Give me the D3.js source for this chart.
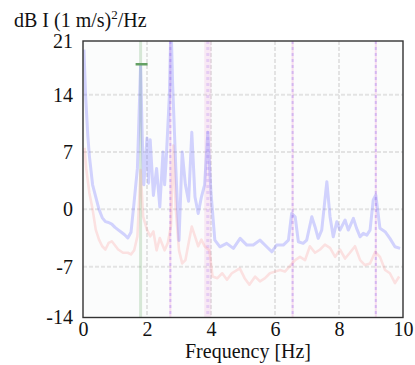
<!DOCTYPE html>
<html><head><meta charset="utf-8">
<script src="https://cdn.jsdelivr.net/npm/d3@7/dist/d3.min.js"></script>
<style>body{margin:0;background:#fff}svg{display:block}</style>
</head><body><svg id="c" width="415" height="365"></svg>
<script>
// ---- data ----
const blueFreq = [0.03,0.08,0.15,0.2,0.3,0.4,0.5,0.6,0.7,0.8,0.9,1.0,1.1,1.2,1.3,1.4,1.5,1.6,1.7,1.8,1.85,1.9,2.0,2.05,2.1,2.2,2.3,2.4,2.5,2.55,2.6,2.7,2.75,2.8,2.9,3.0,3.1,3.2,3.3,3.4,3.5,3.6,3.7,3.8,3.9,4.0,4.12,4.28,4.49,4.70,4.91,5.12,5.32,5.53,5.74,5.90,6.05,6.26,6.42,6.52,6.63,6.73,6.88,6.99,7.15,7.25,7.35,7.46,7.62,7.72,7.82,7.93,8.03,8.19,8.29,8.45,8.55,8.66,8.76,8.87,8.97,9.07,9.15,9.28,9.44,9.59,9.75,9.91];
const blueDb = [19.5,14,9,6.5,3,1.5,0,-1,-1.5,-1.6,-1.8,-2.2,-2.5,-2.8,-3.1,-3.5,-2.8,1.0,5.0,17.6,9,3,8.7,3.2,8.5,1.7,5,0.3,7,3,6,14,23,15.4,5,-3.8,7,3,1,9.4,1.5,-0.5,1.5,3,9.4,2,-3.75,-4.57,-4.15,-4.76,-3.54,-4.36,-4.36,-3.75,-4.57,-5.18,-4.36,-4.36,-3.75,-0.5,-0.9,-3.96,-4.15,-3.75,-0.9,-2.12,-3.54,-2.53,3.37,-0.9,-3.35,-1.51,-2.53,-1.3,-2.53,-1.1,-2.32,-3.35,-2.93,-3.14,-2.53,1.14,1.75,-2.32,-2.73,-3.54,-4.57,-4.76];
const pinkFreq = [0.05,0.1,0.2,0.3,0.4,0.5,0.6,0.7,0.8,0.9,1.1,1.25,1.4,1.5,1.6,1.7,1.8,1.88,2.0,2.1,2.2,2.3,2.4,2.55,2.65,2.75,2.82,2.9,3.0,3.1,3.2,3.3,3.4,3.5,3.6,3.7,3.8,3.95,4.05,4.2,4.35,4.5,4.65,4.9,5.05,5.2,5.38,5.53,5.69,5.84,6.0,6.16,6.31,6.47,6.63,6.78,6.94,7.09,7.25,7.41,7.56,7.72,7.88,8.03,8.19,8.34,8.5,8.66,8.81,8.97,9.13,9.28,9.44,9.59,9.75,9.88];
const pinkDb = [7.5,5,2,0,-2.5,-3.7,-4.5,-4.9,-4.1,-3.9,-4.9,-5.3,-5.3,-5.5,-5,-3.3,4.8,-0.9,-2.5,-3.3,-2.7,-5,-3.5,-5,-4.1,-2,7.8,0,-5,-6.6,-6.2,-4.1,-2.1,-3.3,-4.5,-3.7,-4.5,-5,-8.2,-8.4,-7.8,-8.6,-7.8,-7.2,-8.4,-9.2,-8.2,-8.8,-8.4,-7.8,-7.6,-7.4,-7.6,-6.9,-6.2,-5.8,-6.2,-4.5,-5.3,-4.9,-4.3,-4.7,-5.8,-4.9,-6,-5.3,-4.5,-6.2,-6.8,-6.6,-5.2,-5.8,-7.4,-7.8,-9,-8.2];
const xTicks = [0,2,4,6,8,10];
const yGrid = [-7,0,7,14];
const yTickLabels = ["-14","-7","0","7","14","21"];
const yDomain = [-13.2,20.55];
const greenMarkFreq = 1.8, greenMarkDb = 17.7;
const purpleLines = [2.73,6.55,9.15];
const bandFreq = 3.9;

// pick an installed serif font if any
function pickFont(){
  const c=document.createElement("canvas").getContext("2d");
  const s="Frequency [Hz] dB I (1 m/s)";
  c.font="40px monospace"; const wm=c.measureText(s).width;
  c.font="40px sans-serif"; const ws=c.measureText(s).width;
  for(const f of ["Liberation Serif","DejaVu Serif","Noto Serif","Times New Roman","Tinos","FreeSerif","Nimbus Roman","Times"]){
    c.font=`40px "${f}", monospace`; const a=c.measureText(s).width;
    c.font=`40px "${f}", sans-serif`; const b=c.measureText(s).width;
    if(Math.abs(a-wm)>0.5 && Math.abs(b-ws)>0.5) return `"${f}", serif`;
  }
  return "sans-serif";
}
const FONT=pickFont();

// ---- layout ----
const L=83,R=403,T=41,B=317.5;
const svg=d3.select("#c");
const x=d3.scaleLinear().domain([0,10]).range([L,R]);
const y=d3.scaleLinear().domain(yDomain).range([B,T]);

svg.append("rect").attr("x",L).attr("y",T).attr("width",R-L).attr("height",B-T).attr("fill","#fbfcfc");
svg.append("clipPath").attr("id","clip").append("rect").attr("x",L).attr("y",T).attr("width",R-L).attr("height",B-T);
const g=svg.append("g").attr("clip-path","url(#clip)");

// grid
g.selectAll(".vg").data(xTicks.slice(1,-1)).join("line").attr("x1",d=>x(d)).attr("x2",d=>x(d)).attr("y1",T).attr("y2",B)
 .attr("stroke","#e3e3e3").attr("stroke-width",2).attr("stroke-dasharray","4,2");
g.selectAll(".hg").data(yGrid).join("line").attr("y1",d=>y(d)).attr("y2",d=>y(d)).attr("x1",L).attr("x2",R)
 .attr("stroke","#e3e3e3").attr("stroke-width",2).attr("stroke-dasharray","4,2");

// band at ~3.9 Hz
g.append("line").attr("x1",x(bandFreq)).attr("x2",x(bandFreq)).attr("y1",T).attr("y2",B)
 .attr("stroke","rgb(240,170,220)").attr("stroke-opacity",0.25).attr("stroke-width",7);
g.append("line").attr("x1",x(bandFreq)).attr("x2",x(bandFreq)).attr("y1",T).attr("y2",B)
 .attr("stroke","rgb(170,120,240)").attr("stroke-opacity",0.25).attr("stroke-width",3).attr("stroke-dasharray","3,3");

// green line
g.append("line").attr("x1",x(greenMarkFreq)).attr("x2",x(greenMarkFreq)).attr("y1",T).attr("y2",B)
 .attr("stroke","rgb(80,160,80)").attr("stroke-opacity",0.22).attr("stroke-width",3);

// purple dashed lines
purpleLines.forEach(f=>{
  g.append("line").attr("x1",x(f)).attr("x2",x(f)).attr("y1",T).attr("y2",B)
   .attr("stroke","rgb(240,150,210)").attr("stroke-opacity",0.3).attr("stroke-width",2);
  g.append("line").attr("x1",x(f)).attr("x2",x(f)).attr("y1",T).attr("y2",B)
   .attr("stroke","rgb(150,110,240)").attr("stroke-opacity",0.35).attr("stroke-width",2).attr("stroke-dasharray","3,3");
});

const line=d3.line().x(d=>x(d[0])).y(d=>y(d[1]));
g.append("path").datum(pinkFreq.map((f,i)=>[f,pinkDb[i]])).attr("d",line).attr("fill","none")
 .attr("stroke","rgb(255,120,120)").attr("stroke-opacity",0.2).attr("stroke-width",2.6).attr("stroke-linejoin","round");
g.append("path").datum(blueFreq.map((f,i)=>[f,blueDb[i]])).attr("d",line).attr("fill","none")
 .attr("stroke","rgb(100,100,255)").attr("stroke-opacity",0.28).attr("stroke-width",3).attr("stroke-linejoin","round");

// green marker
g.append("line").attr("x1",x(greenMarkFreq)-5).attr("x2",x(greenMarkFreq)+7).attr("y1",y(greenMarkDb)).attr("y2",y(greenMarkDb))
 .attr("stroke","rgb(100,160,100)").attr("stroke-width",2.5);

// frame
svg.append("rect").attr("x",L).attr("y",T).attr("width",R-L).attr("height",B-T).attr("fill","none").attr("stroke","#333").attr("stroke-width",1.4);

// axes
const xa=svg.append("g").attr("transform",`translate(0,${B})`).call(d3.axisBottom(x).tickValues(xTicks).tickSize(0).tickPadding(4).tickFormat(d3.format("d")));
xa.select(".domain").remove();
xa.attr("font-size",20).attr("font-family",FONT);
xa.selectAll("text").attr("fill","#111");
const yTickVals=[yDomain[0],-7,0,7,14,yDomain[1]];
const ya=svg.append("g").attr("transform",`translate(${L},0)`).call(d3.axisLeft(y).tickValues(yTickVals).tickSize(0).tickPadding(10).tickFormat((d,i)=>yTickLabels[i]));
ya.select(".domain").remove();
ya.attr("font-size",20).attr("font-family",FONT);
ya.selectAll("text").attr("fill","#111");

svg.append("text").attr("x",248).attr("y",358).attr("text-anchor","middle").attr("font-size",20).attr("font-family",FONT).attr("fill","#111").text("Frequency [Hz]");
const yl=svg.append("text").attr("x",14).attr("y",27).attr("font-size",20).attr("font-family",FONT).attr("fill","#111");
yl.append("tspan").text("dB I (1 m/s)");
yl.append("tspan").attr("font-size",13).attr("dy",-8).text("2");
yl.append("tspan").attr("dy",8).text("/Hz");
</script></body></html>
